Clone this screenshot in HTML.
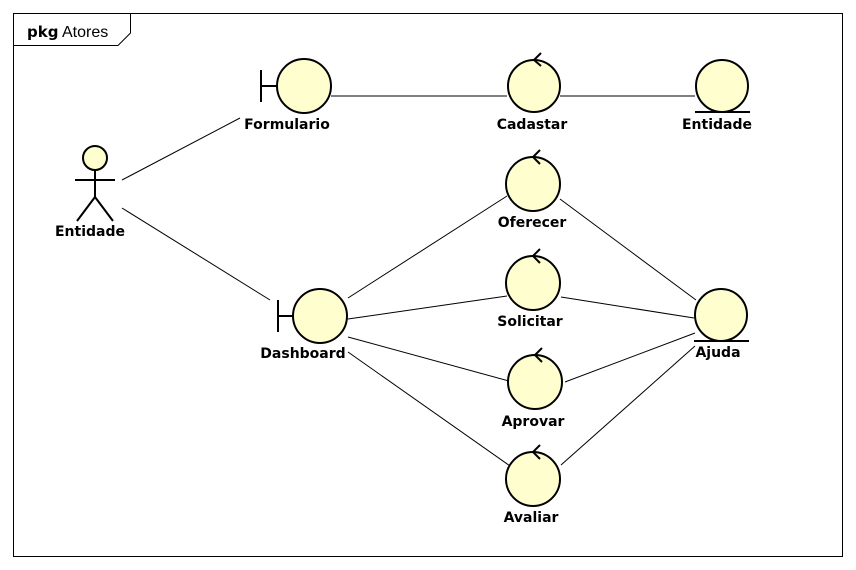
<!DOCTYPE html>
<html><head><meta charset="utf-8"><style>html,body{margin:0;padding:0;background:#fff}svg{display:block}text{font-family:"DejaVu Sans","Liberation Sans",sans-serif;font-size:14px;font-weight:bold;fill:#000}</style></head><body>
<svg width="856" height="570" viewBox="0 0 856 570" xmlns="http://www.w3.org/2000/svg">
<rect x="13.5" y="13.5" width="829" height="543" fill="#fff" stroke="#000" stroke-width="1"/>
<polyline points="13.5,45.5 118,45.5 130.5,33 130.5,13.5" fill="none" stroke="#000"/>
<text x="27" y="37" style="font-size:15px;font-weight:bold">pkg</text><text x="62" y="37" style="font-size:16px;font-weight:normal;font-family:'Liberation Sans',sans-serif">Atores</text>
<g stroke="#000" stroke-width="1" fill="none">
<line x1="122" y1="180" x2="240" y2="118"/>
<line x1="122" y1="208" x2="270" y2="300"/>
<line x1="331" y1="96" x2="507" y2="96"/>
<line x1="560" y1="96" x2="695" y2="96"/>
<line x1="348" y1="298" x2="507" y2="196"/>
<line x1="348" y1="319" x2="507" y2="296"/>
<line x1="348" y1="337" x2="509" y2="381"/>
<line x1="348" y1="352" x2="510" y2="466"/>
<line x1="560" y1="199" x2="696" y2="300"/>
<line x1="561" y1="297" x2="694" y2="318"/>
<line x1="565" y1="382" x2="695" y2="333"/>
<line x1="561" y1="465" x2="695" y2="346"/>
</g>
<g stroke="#000" stroke-width="2" fill="#FEFECE">
<circle cx="95" cy="158" r="12"/>
<line x1="95" y1="170" x2="95" y2="197"/><line x1="75" y1="180" x2="115" y2="180"/>
<line x1="95" y1="197" x2="77" y2="221"/><line x1="95" y1="197" x2="113" y2="221"/>
<circle cx="304" cy="86" r="27"/><line x1="261" y1="70" x2="261" y2="102"/><line x1="261" y1="86" x2="277" y2="86"/>
<circle cx="320" cy="316" r="27"/><line x1="278" y1="300" x2="278" y2="332"/><line x1="278" y1="316" x2="293" y2="316"/>
<circle cx="534" cy="86" r="26"/><polyline fill="none" points="541,53 534,60 541,66"/>
<circle cx="533" cy="184" r="27"/><polyline fill="none" points="540,150 533,157 540,164"/>
<circle cx="533" cy="283" r="27"/><polyline fill="none" points="540,249 533,256 540,263"/>
<circle cx="535" cy="382" r="27"/><polyline fill="none" points="542,348 535,355 542,362"/>
<circle cx="533" cy="479" r="27"/><polyline fill="none" points="540,445 533,452 540,459"/>
<circle cx="722" cy="86" r="26"/><line x1="695" y1="112" x2="750" y2="112"/>
<circle cx="721" cy="315" r="26"/><line x1="694" y1="341" x2="749" y2="341"/>
</g>
<g text-anchor="middle">
<text x="90" y="236">Entidade</text>
<text x="287" y="129">Formulario</text>
<text x="532" y="129">Cadastar</text>
<text x="717" y="129">Entidade</text>
<text x="532" y="227">Oferecer</text>
<text x="530" y="326">Solicitar</text>
<text x="533" y="426">Aprovar</text>
<text x="531" y="522">Avaliar</text>
<text x="303" y="358">Dashboard</text>
<text x="718" y="357">Ajuda</text>
</g>
</svg>
</body></html>
